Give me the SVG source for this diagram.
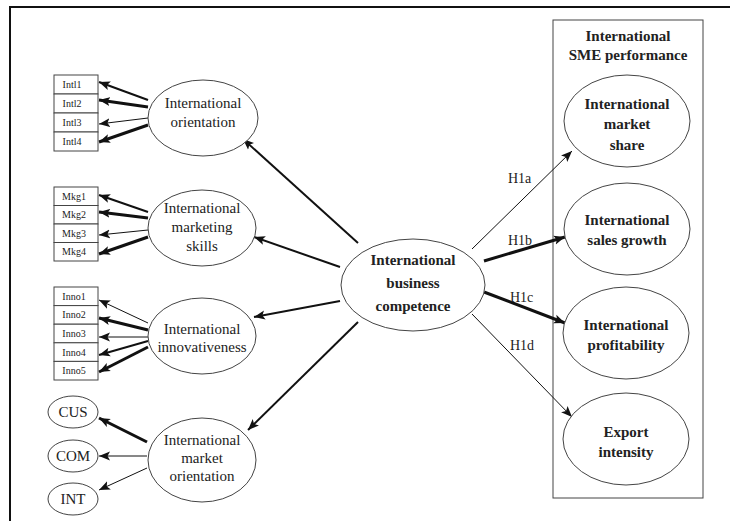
<svg xmlns="http://www.w3.org/2000/svg" width="730" height="521" viewBox="0 0 730 521">
<defs>
<marker id="ah" markerUnits="userSpaceOnUse" markerWidth="12" markerHeight="10" refX="11" refY="5" orient="auto">
<path d="M0,0.5 L11,5 L0,9.5 L2.5,5 Z" fill="#111"/>
</marker>
<style>
.bg{fill:#fff}
.frame{fill:none;stroke:#111;stroke-width:2}
.box{fill:#fff;stroke:#444;stroke-width:1}
.ell{fill:#fff;stroke:#444;stroke-width:1}
.t{font-family:"Liberation Serif",serif;fill:#222;text-anchor:middle}
.lat{font-size:15px}
.bold{font-size:15px;font-weight:bold}
.ind{font-size:10px}
.lbl{font-family:"Liberation Serif",serif;fill:#222;font-size:14px}
.c{fill:none;stroke:#111;marker-end:url(#ah)}
.w1{stroke-width:1}
.w2{stroke-width:2}
.w3{stroke-width:3}
</style>
</defs>
<rect class="bg" width="730" height="521"/>
<path class="frame" d="M10,521 V7 H730"/>

<g id="sme-performance">
<rect x="553" y="20" width="150" height="478" fill="none" stroke="#444" stroke-width="1"/>
<text class="t bold" x="628" y="41">International</text>
<text class="t bold" x="628" y="60">SME performance</text>
</g>

<g id="connectors">
<line class="c w2" x1="358" y1="243" x2="243" y2="139"/>
<line class="c w2" x1="340" y1="267" x2="254" y2="237"/>
<line class="c w2" x1="340" y1="301" x2="254" y2="317"/>
<line class="c w2" x1="358" y1="322" x2="248" y2="430"/>
<line class="c w1" x1="472" y1="249" x2="572" y2="151"/>
<line class="c w3" x1="484" y1="261" x2="565" y2="237"/>
<line class="c w3" x1="484" y1="292" x2="565" y2="323"/>
<line class="c w1" x1="472" y1="314" x2="572" y2="417"/>
<line class="c w2" x1="148" y1="100" x2="99" y2="82"/>
<line class="c w3" x1="148" y1="107" x2="99" y2="100"/>
<line class="c w1" x1="148" y1="118" x2="99" y2="124"/>
<line class="c w3" x1="148" y1="125" x2="99" y2="142"/>
<line class="c w2" x1="148" y1="212" x2="99" y2="195"/>
<line class="c w3" x1="148" y1="218" x2="99" y2="212"/>
<line class="c w1" x1="148" y1="230" x2="99" y2="235"/>
<line class="c w3" x1="148" y1="237" x2="99" y2="254"/>
<line class="c w1" x1="148" y1="323" x2="99" y2="300"/>
<line class="c w3" x1="148" y1="330" x2="99" y2="318"/>
<line class="c w1" x1="148" y1="337" x2="99" y2="337"/>
<line class="c w2" x1="148" y1="341" x2="99" y2="355"/>
<line class="c w3" x1="148" y1="347" x2="99" y2="372"/>
<line class="c w3" x1="147" y1="442" x2="99" y2="418"/>
<line class="c w1" x1="147" y1="456" x2="99" y2="456"/>
<line class="c w1" x1="147" y1="468" x2="99" y2="490"/>
<text class="lbl" x="508" y="183">H1a</text>
<text class="lbl" x="508" y="245">H1b</text>
<text class="lbl" x="510" y="302">H1c</text>
<text class="lbl" x="510" y="350">H1d</text>
</g>

<g id="intl-indicators">
<rect class="box" x="54" y="75" width="44" height="19"/>
<rect class="box" x="54" y="94" width="44" height="19"/>
<rect class="box" x="54" y="113" width="44" height="19"/>
<rect class="box" x="54" y="132" width="44" height="19"/>
<text class="t ind" x="72" y="88">Intl1</text>
<text class="t ind" x="72" y="107">Intl2</text>
<text class="t ind" x="72" y="126">Intl3</text>
<text class="t ind" x="72" y="145">Intl4</text>
</g>
<g id="mkg-indicators">
<rect class="box" x="54" y="187" width="44" height="18.5"/>
<rect class="box" x="54" y="205.5" width="44" height="18.5"/>
<rect class="box" x="54" y="224" width="44" height="18.5"/>
<rect class="box" x="54" y="242.5" width="44" height="18.5"/>
<text class="t ind" x="74" y="200">Mkg1</text>
<text class="t ind" x="74" y="218">Mkg2</text>
<text class="t ind" x="74" y="237">Mkg3</text>
<text class="t ind" x="74" y="255">Mkg4</text>
</g>
<g id="inno-indicators">
<rect class="box" x="54" y="287" width="44" height="18.6"/>
<rect class="box" x="54" y="305.6" width="44" height="18.6"/>
<rect class="box" x="54" y="324.2" width="44" height="18.6"/>
<rect class="box" x="54" y="342.8" width="44" height="18.6"/>
<rect class="box" x="54" y="361.4" width="44" height="18.6"/>
<text class="t ind" x="74" y="300">Inno1</text>
<text class="t ind" x="74" y="318">Inno2</text>
<text class="t ind" x="74" y="337">Inno3</text>
<text class="t ind" x="74" y="356">Inno4</text>
<text class="t ind" x="74" y="374">Inno5</text>
</g>

<g id="cus"><ellipse class="ell" cx="73" cy="412" rx="25" ry="16"/><text class="t lat" x="73" y="417">CUS</text></g>
<g id="com"><ellipse class="ell" cx="73" cy="456" rx="25" ry="16"/><text class="t lat" x="73" y="461">COM</text></g>
<g id="int"><ellipse class="ell" cx="73" cy="499" rx="25" ry="16"/><text class="t lat" x="73" y="504">INT</text></g>

<g id="intl-orientation"><ellipse class="ell" cx="203" cy="118" rx="55" ry="38"/>
<text class="t lat" x="203" y="108">International</text><text class="t lat" x="203" y="127">orientation</text></g>
<g id="intl-marketing"><ellipse class="ell" cx="202" cy="228" rx="54" ry="38"/>
<text class="t lat" x="202" y="213">International</text><text class="t lat" x="202" y="232">marketing</text><text class="t lat" x="202" y="251">skills</text></g>
<g id="intl-innovativeness"><ellipse class="ell" cx="202" cy="336" rx="54" ry="38"/>
<text class="t lat" x="202" y="334">International</text><text class="t lat" x="202" y="352">innovativeness</text></g>
<g id="intl-market-orientation"><ellipse class="ell" cx="202" cy="460" rx="54" ry="42"/>
<text class="t lat" x="202" y="445">International</text><text class="t lat" x="202" y="463">market</text><text class="t lat" x="202" y="481">orientation</text></g>

<g id="business-competence"><ellipse class="ell" cx="413" cy="285" rx="72" ry="46"/>
<text class="t bold" x="413" y="265">International</text><text class="t bold" x="413" y="288">business</text><text class="t bold" x="413" y="311">competence</text></g>

<g id="market-share"><ellipse class="ell" cx="627" cy="121" rx="63" ry="46"/>
<text class="t bold" x="627" y="109">International</text><text class="t bold" x="627" y="129">market</text><text class="t bold" x="627" y="150">share</text></g>
<g id="sales-growth"><ellipse class="ell" cx="627" cy="229" rx="63" ry="46"/>
<text class="t bold" x="627" y="225">International</text><text class="t bold" x="627" y="245">sales growth</text></g>
<g id="profitability"><ellipse class="ell" cx="626" cy="333" rx="63" ry="46"/>
<text class="t bold" x="626" y="330">International</text><text class="t bold" x="626" y="350">profitability</text></g>
<g id="export-intensity"><ellipse class="ell" cx="626" cy="439" rx="63" ry="46"/>
<text class="t bold" x="626" y="437">Export</text><text class="t bold" x="626" y="457">intensity</text></g>
</svg>
